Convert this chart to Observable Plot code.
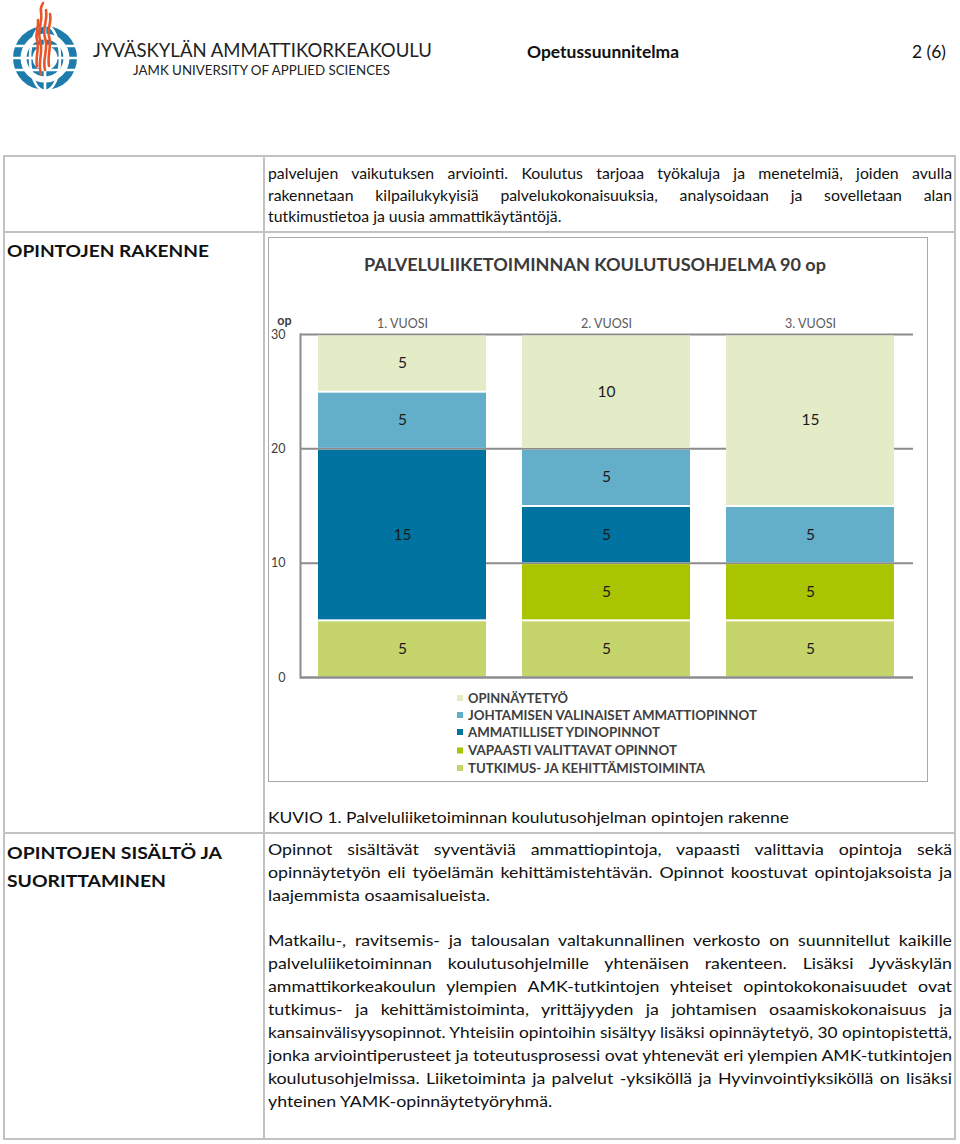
<!DOCTYPE html>
<html>
<head>
<meta charset="utf-8">
<script src="https://cdn.jsdelivr.net/npm/d3@7"></script>
<script src="https://cdn.jsdelivr.net/npm/@observablehq/plot@0.6"></script>
<style>
  html, body { margin: 0; padding: 0; background: #fff; }
  #page { position: relative; width: 960px; height: 1144px; overflow: hidden; font-family: Lato, "Open Sans", sans-serif; color: #111; }
  .abs { position: absolute; }
  .hline { position: absolute; background: #c2c2c2; }
</style>
</head>
<body>
<div id="page"></div>
<script>
// ---------- DATA ----------
const years = ["1. VUOSI", "2. VUOSI", "3. VUOSI"];
// bottom-to-top stacking order
const categories = [
  "TUTKIMUS- JA KEHITTÄMISTOIMINTA",
  "VAPAASTI VALITTAVAT OPINNOT",
  "AMMATILLISET YDINOPINNOT",
  "JOHTAMISEN VALINAISET AMMATTIOPINNOT",
  "OPINNÄYTETYÖ"
];
const categoryColors = ["#c6d56b", "#a9c400", "#0173a1", "#63aec9", "#e4ebc7"];
const tutkimus = [5, 5, 5];
const vapaasti = [0, 5, 5];
const ammatilliset = [15, 5, 0];
const johtamisen = [5, 5, 5];
const opinnaytetyo = [5, 10, 15];
const yTicks = [0, 10, 20, 30];
const chartTitle = "PALVELULIIKETOIMINNAN KOULUTUSOHJELMA 90 op";

const series = [tutkimus, vapaasti, ammatilliset, johtamisen, opinnaytetyo];
const data = [];
categories.forEach((cat, i) => {
  years.forEach((year, j) => {
    const v = series[i][j];
    if (v > 0) data.push({year, cat, value: v});
  });
});

const page = document.getElementById("page");
const NS = "http://www.w3.org/2000/svg";

// ---------- HEADER (logo + texts) ----------
const header = document.createElementNS(NS, "svg");
header.setAttribute("width", 960); header.setAttribute("height", 100);
header.setAttribute("class", "abs"); header.style.left = "0px"; header.style.top = "0px";
header.innerHTML = `
  <g>
    <circle cx="45" cy="58" r="32" fill="#1d7cab"/>
    <circle cx="45" cy="58" r="24.5" fill="#fff"/>
    <circle cx="45" cy="58" r="18.5" fill="#1d7cab"/>
    <circle cx="45" cy="58" r="12.5" fill="#fff"/>
    <g stroke="#fff" stroke-width="2.6" fill="none">
      <line x1="10" y1="46" x2="80" y2="46"/>
      <line x1="10" y1="58" x2="80" y2="58"/>
      <line x1="10" y1="70" x2="80" y2="70"/>
      <ellipse cx="45" cy="58" rx="15" ry="33"/>
      <line x1="45" y1="24" x2="45" y2="92"/>
    </g>
    <g stroke="#e8552b" stroke-width="2.6" fill="none" stroke-linecap="round">
      <path d="M41,74 C37,62 44,52 40,40 C37,30 43,22 41,12 C40,8 42,5 43,3"/>
      <path d="M45,70 C42,58 49,49 45,38 C42,28 48,20 46,10"/>
      <path d="M49,66 C47,56 52,46 49,36 C47,28 52,22 50,14"/>
      <path d="M37,66 C35,56 40,48 37,40 C35,33 39,27 38,20"/>
    </g>
  </g>
  <text x="93" y="56.5" font-family="Lato, sans-serif" font-size="20" fill="#222" textLength="339" lengthAdjust="spacingAndGlyphs">JYVÄSKYLÄN AMMATTIKORKEAKOULU</text>
  <text x="133" y="75" font-family="Lato, sans-serif" font-size="13" fill="#222" textLength="257" lengthAdjust="spacingAndGlyphs">JAMK UNIVERSITY OF APPLIED SCIENCES</text>
  <text x="527" y="57.5" font-family="Lato, sans-serif" font-weight="bold" font-size="17" fill="#111" textLength="152" lengthAdjust="spacingAndGlyphs">Opetussuunnitelma</text>
  <text x="912" y="57.5" font-family="Lato, sans-serif" font-size="17" fill="#111" textLength="34" lengthAdjust="spacingAndGlyphs">2 (6)</text>
`;
page.appendChild(header);

// ---------- TABLE GRID ----------
function rect(l, t, w, h) {
  const d = document.createElement("div");
  d.className = "hline";
  d.style.left = l + "px"; d.style.top = t + "px"; d.style.width = w + "px"; d.style.height = h + "px";
  page.appendChild(d);
}
rect(3, 155, 953, 2);    // top
rect(3, 1138, 953, 2);   // bottom
rect(3, 155, 2, 985);    // left
rect(954, 155, 2, 985);  // right
rect(263, 155, 2, 985);  // column divider
rect(3, 231, 953, 2);    // row 1/2
rect(3, 832, 953, 2);    // row 2/3

// ---------- TEXT LINES ----------
function measure(txt, font) {
  const s = document.createElement("span");
  s.style.cssText = `position:absolute;visibility:hidden;white-space:nowrap;font:${font};`;
  s.textContent = txt; page.appendChild(s);
  const w = s.getBoundingClientRect().width; s.remove(); return w;
}
// mode: "justify" -> fill W; "fit" -> scale to exactly W; "left" -> natural
function addLine(txt, x, yc, W, mode, font, scale) {
  const w = measure(txt, font);
  let s = scale;
  if (mode === "fit") s = W / w;
  else if (w * s > W) s = W / w;
  const d = document.createElement("div");
  d.style.cssText = `position:absolute;left:${x}px;top:${yc - 11}px;height:22px;line-height:22px;white-space:nowrap;font:${font};color:#111;transform-origin:0 50%;transform:scaleX(${s});`;
  d.textContent = txt;
  if (mode === "justify") {
    const spaces = (txt.match(/ /g) || []).length;
    const extra = (W / s - w) / Math.max(spaces, 1);
    d.style.wordSpacing = extra + "px";
  }
  page.appendChild(d);
}
function paragraph(lines, x, ys, W, scale, font) {
  lines.forEach((t, i) => {
    if (i === lines.length - 1) addLine(t, x, ys[i], W, "left", font, scale);
    else addLine(t, x, ys[i], W, "justify", font, scale);
  });
}
const bodyFont = "16px Lato, sans-serif";
const headFont = "bold 17.5px Lato, sans-serif";
// common horizontal scale of the body text, taken from a short final line
const bodyScale = 222 / measure("laajemmista osaamisalueista.", bodyFont);

paragraph([
  "palvelujen vaikutuksen arviointi. Koulutus tarjoaa työkaluja ja menetelmiä, joiden avulla",
  "rakennetaan kilpailukykyisiä palvelukokonaisuuksia, analysoidaan ja sovelletaan alan",
  "tutkimustietoa ja uusia ammattikäytäntöjä."
], 268, [174, 195.5, 217], 684, bodyScale * 0.89, bodyFont);

addLine("OPINTOJEN RAKENNE", 7, 251, 202, "fit", headFont, 1);
addLine("KUVIO 1. Palveluliiketoiminnan koulutusohjelman opintojen rakenne", 268, 818, 521, "fit", bodyFont, 1);
addLine("OPINTOJEN SISÄLTÖ JA", 7, 853, 215, "fit", headFont, 1);
addLine("SUORITTAMINEN", 7, 881, 159, "fit", headFont, 1);

paragraph([
  "Opinnot sisältävät syventäviä ammattiopintoja, vapaasti valittavia opintoja sekä",
  "opinnäytetyön eli työelämän kehittämistehtävän. Opinnot koostuvat opintojaksoista ja",
  "laajemmista osaamisalueista."
], 268, [850, 873, 896], 684, bodyScale, bodyFont);

paragraph([
  "Matkailu-, ravitsemis- ja talousalan valtakunnallinen verkosto on suunnitellut kaikille",
  "palveluliiketoiminnan koulutusohjelmille yhtenäisen rakenteen. Lisäksi Jyväskylän",
  "ammattikorkeakoulun ylempien AMK-tutkintojen yhteiset opintokokonaisuudet ovat",
  "tutkimus- ja kehittämistoiminta, yrittäjyyden ja johtamisen osaamiskokonaisuus ja",
  "kansainvälisyysopinnot. Yhteisiin opintoihin sisältyy lisäksi opinnäytetyö, 30 opintopistettä,",
  "jonka arviointiperusteet ja toteutusprosessi ovat yhtenevät eri ylempien AMK-tutkintojen",
  "koulutusohjelmissa. Liiketoiminta ja palvelut -yksiköllä ja Hyvinvointiyksiköllä on lisäksi",
  "yhteinen YAMK-opinnäytetyöryhmä."
], 268, [941, 964, 987, 1010, 1033, 1056, 1079, 1102], 684, bodyScale, bodyFont);

// ---------- CHART BOX ----------
const box = document.createElement("div");
box.style.cssText = "position:absolute;left:268px;top:237px;width:658px;height:543px;border:1.5px solid #a8a8a8;background:#fff;";
page.appendChild(box);

// title + legend (SVG overlay)
const deco = document.createElementNS(NS, "svg");
deco.setAttribute("width", 661); deco.setAttribute("height", 546);
deco.style.cssText = "position:absolute;left:268px;top:237px;";
const legendRows = categories.slice().reverse();
const legendColors = categoryColors.slice().reverse();
const legendY = [461, 478, 495, 513.5, 531];
const legendW = [100, 289, 192, 209, 237];
let inner = `<text x="96" y="34" font-family="Lato, sans-serif" font-weight="bold" font-size="16.5" fill="#3c3a3a" textLength="462" lengthAdjust="spacingAndGlyphs">${chartTitle}</text>`;
legendRows.forEach((c, i) => {
  inner += `<rect x="189" y="${legendY[i] - 3}" width="6" height="6" fill="${legendColors[i]}"/>`;
  inner += `<text x="200" y="${legendY[i] + 4.5}" font-family="Lato, sans-serif" font-weight="bold" font-size="12.5" fill="#404040" textLength="${legendW[i]}" lengthAdjust="spacingAndGlyphs">${c}</text>`;
});
deco.innerHTML = inner;
page.appendChild(deco);

// ---------- PLOT ----------
const grey = "#8c8c8c";
const chart = Plot.plot({
  width: 661,
  height: 446,
  marginLeft: 32,
  marginRight: 16,
  marginTop: 97,
  marginBottom: 6,
  style: {fontFamily: "Lato, sans-serif", background: "transparent", overflow: "visible"},
  x: {domain: years, type: "band", paddingInner: 0.175, paddingOuter: 0.083},
  y: {domain: [0, 30]},
  color: {domain: categories, range: categoryColors},
  marks: [
    Plot.ruleY(yTicks.slice(1), {stroke: grey, strokeWidth: 2}),
    Plot.barY(data, {x: "year", y: "value", fill: "cat", order: categories, insetTop: 1.5, insetBottom: 0.5}),
    Plot.text(data, Plot.stackY({x: "year", y: "value", z: "cat", order: categories, text: d => String(d.value), fill: "#1b1b1b", fontSize: 15.5})),
    Plot.ruleY([0], {stroke: grey, strokeWidth: 2.5}),
    Plot.frame({anchor: "left", stroke: grey, strokeWidth: 2}),
    Plot.axisX({anchor: "top", tickSize: 0, tickPadding: 7, label: null, fontSize: 12.5, fill: "#5a5a5a"}),
    Plot.axisY({ticks: yTicks, tickSize: 0, tickPadding: 15, label: null, fontSize: 12.5, fill: "#404040"}),
    Plot.text(["op"], {frameAnchor: "top-left", textAnchor: "middle", lineAnchor: "middle", dx: -16, dy: -14, text: d => d, fontSize: 12.5, fontWeight: "bold", fill: "#404040"})
  ]
});
chart.style.position = "absolute";
chart.style.left = "268px";
chart.style.top = "237px";
page.appendChild(chart);
</script>
</body>
</html>
